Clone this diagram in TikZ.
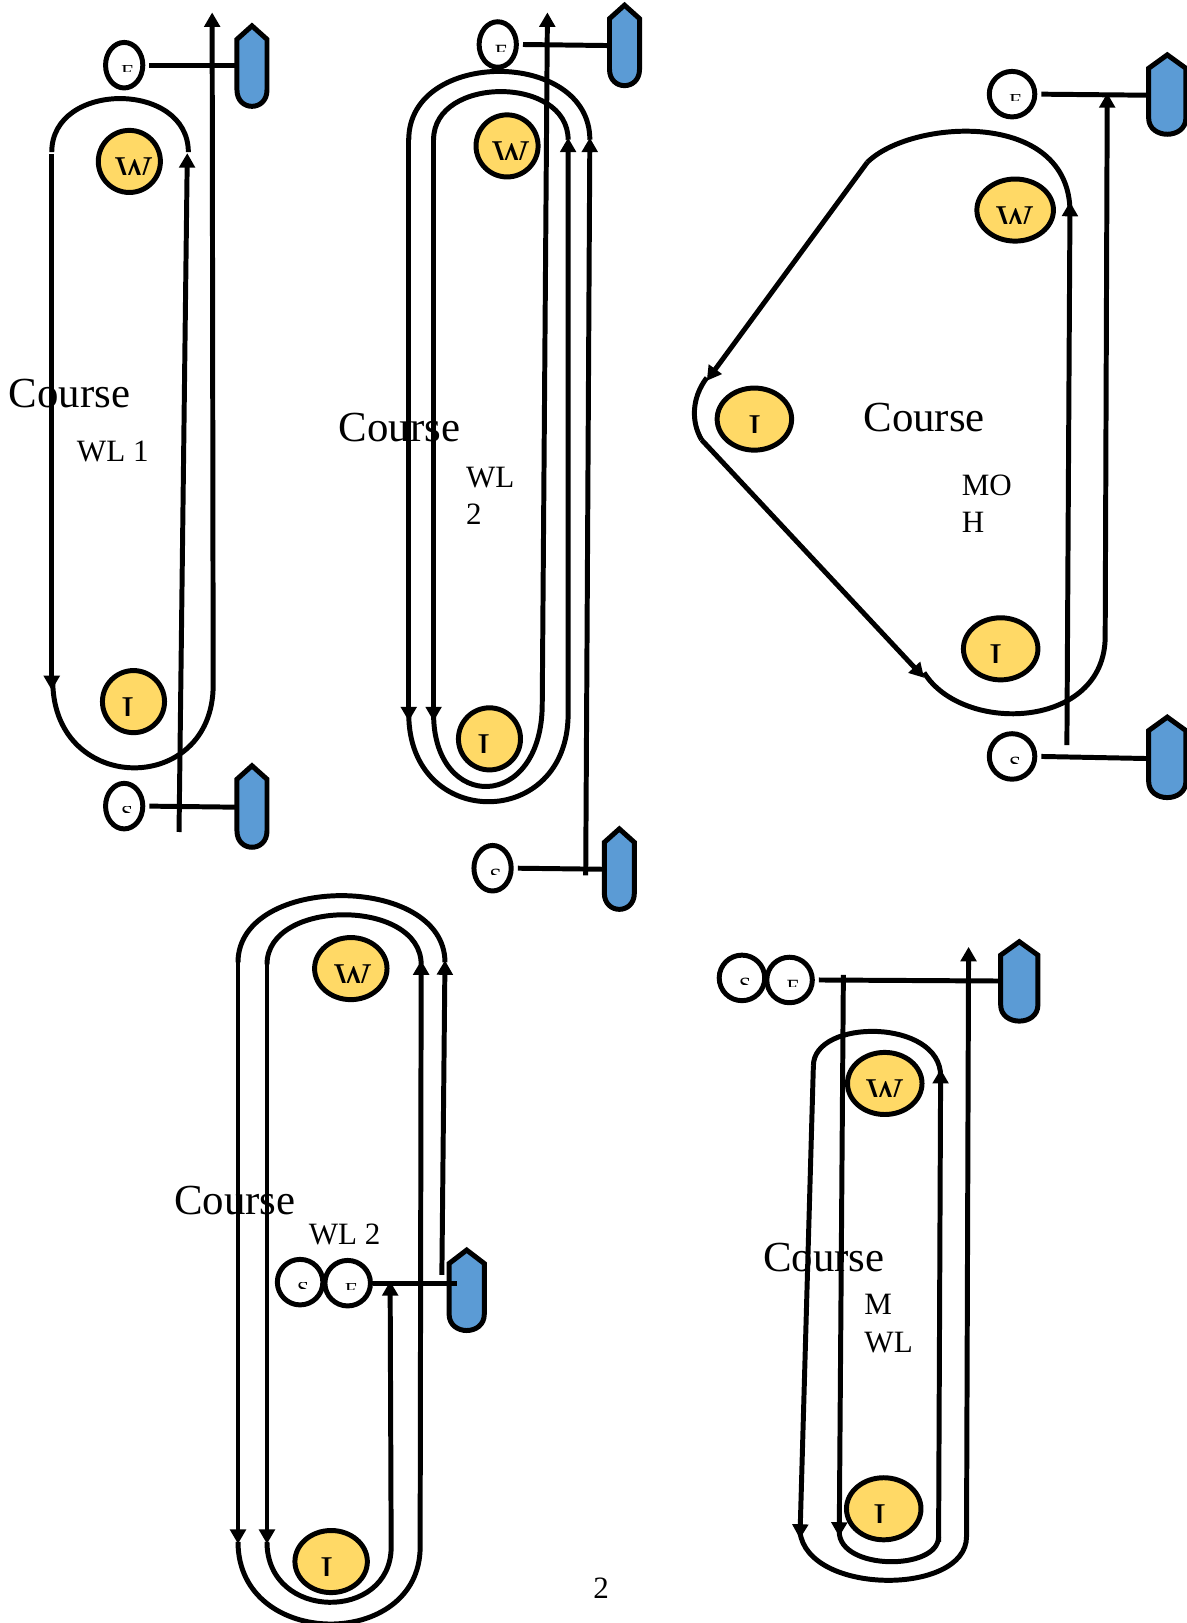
\documentclass[tikz,border=0pt]{standalone}
\usepackage{fontspec}
\setmainfont{Liberation Serif}
\usepackage{xcolor}
\usetikzlibrary{arrows.meta,shapes.geometric}

\definecolor{wheelyellow}{HTML}{FFD966}
\definecolor{tankblue}{HTML}{5B9BD5}

\tikzset{
  belt/.style={line width=2.4pt},
  flow/.style={line width=2.4pt, -{Triangle[length=7pt,width=7.5pt]}},
  wheel/.style={ellipse, draw, line width=2.4pt, fill=wheelyellow, inner sep=0pt, minimum height=30pt, minimum width=30pt},
  roller/.style={ellipse, draw, line width=2.4pt, fill=white, inner sep=0pt, minimum height=22pt, minimum width=17pt},
  tank/.style={draw, line width=2.4pt, fill=tankblue},
  course/.style={anchor=base west, inner sep=0pt, font=\fontsize{20.7}{24}\selectfont},
  wltext/.style={anchor=base west, inner sep=0pt, font=\fontsize{15}{18}\selectfont},
}

% letter cut off below, placed from a wheel or roller
\newcommand{\cutletter}[6]{%
  \begin{scope}[shift={(#1.center)}]
    \clip (-40,#3) rectangle (40,#3+#4);
    \node[anchor=north, inner sep=0pt, font=\fontsize{#5}{#5}\selectfont] at (#2,#3) {#6};
  \end{scope}}
\newcommand{\bigletter}[3]{\cutletter{#1}{#2}{-4}{17}{19}{#3}}
\newcommand{\smallletter}[1]{\cutletter{#1}{3}{0}{6.5}{10.5}}

% left, right, top, bottom of the outer edge
\newcommand{\tankbody}[4]{%
  \draw[tank] ({(#1+#2)/2},#3+4) -- (#2-2,#3+17) -- (#2-2,#4-18)
    .. controls (#2-2,#4+3) and (#1+2,#4+3) .. (#1+2,#4-18) -- (#1+2,#3+17) -- cycle;}

\begin{document}
\begin{tikzpicture}[x=0.5pt,y=-0.5pt]
  \useasboundingbox (0,0) rectangle (1147,1568.4);

  % First panel
  \draw[belt] (50,147) .. controls (50,78) and (182,78) .. (182,147);
  \draw[flow] (50,149) -- (50,667);
  \draw[flow] (51,660) .. controls (53,769) and (206,769) .. (206,662) -- (205,12);
  \draw[flow] (173,804) -- (181,148);
  \node[wheel] (w1) at (125,156) {};
  \node[wheel] (i1) at (129,678) {};
  \node[roller,minimum width=18pt] (f1) at (120,63) {};
  \node[roller,minimum width=18pt] (s1) at (120,779) {};
  \bigletter{w1}{4.5}{W}
  \bigletter{i1}{-5.5}{I}
  \smallletter{f1}{F}
  \smallletter{s1}{S}
  \tankbody{227}{260}{21}{105}
  \tankbody{227}{260}{736}{821}
  \coordinate (t1a) at (227,63);
  \coordinate (t1b) at (227,780);
  \draw[belt] (f1.east) ++(4,0) -- (t1a);
  \draw[belt] (s1.east) ++(4,0) -- (t1b);
  \node[course] (c1) at (8,394) {Course};
  \node[wltext] (l1) at (74,446) {WL 1};

  % Second panel
  \draw[belt] (395,135) .. controls (395,47) and (570,47) .. (570,135);
  \draw[belt] (419,135) .. controls (419,73) and (549,73) .. (549,135);
  \draw[flow] (395,133) -- (395,697);
  \draw[flow] (419,133) -- (419,697);
  \draw[flow] (395,690) .. controls (395,803) and (549,803) .. (549,690) -- (549,133);
  \draw[flow] (419,690) .. controls (419,785) and (524,785) .. (524,680) -- (529,12);
  \draw[flow] (566,846) -- (570,133);
  \node[wheel] (w2) at (490,141) {};
  \node[wheel] (i2) at (473,714) {};
  \node[roller,minimum width=18pt] (f2) at (481,43) {};
  \node[roller,minimum width=18pt] (s2) at (476,839) {};
  \bigletter{w2}{4}{W}
  \bigletter{i2}{-5}{I}
  \smallletter{f2}{F}
  \smallletter{s2}{S}
  \tankbody{587}{620}{1}{85}
  \tankbody{582}{615}{797}{881}
  \coordinate (t2a) at (587,44);
  \coordinate (t2b) at (582,840);
  \draw[belt] (f2.east) ++(4,0) -- (t2a);
  \draw[belt] (s2.east) ++(4,0) -- (t2b);
  \node[course] (c2) at (327,427) {Course};
  \node[wltext,align=left] (l2) at (450,471) {WL};
  \node[wltext] (l2b) at (450,507) {2};

  % Third panel
  \draw[flow] (838,157) -- (683,368);
  \draw[belt] (683,365) .. controls (668,385) and (668,408) .. (678,425);
  \draw[flow] (678,425) -- (893,655);
  \draw[belt] (838,157) .. controls (880,115) and (1034,105) .. (1034,205);
  \draw[flow] (893,650) .. controls (930,710) and (1068,705) .. (1068,615) -- (1070,90);
  \draw[flow] (1031,720) -- (1034,195);
  \node[wheel,minimum width=37pt] (w3) at (981,203) {};
  \node[wheel,minimum width=36pt] (i3a) at (729,405) {};
  \node[wheel,minimum width=36pt] (i3b) at (967,627) {};
  \node[roller,minimum width=22pt] (f3) at (978,91) {};
  \node[roller,minimum width=22pt] (s3) at (978,731) {};
  \bigletter{w3}{0}{W}
  \bigletter{i3a}{1}{I}
  \bigletter{i3b}{-4}{I}
  \smallletter{f3}{F}
  \smallletter{s3}{S}
  \tankbody{1108}{1148}{49}{132}
  \tankbody{1108}{1148}{689}{773}
  \coordinate (t3a) at (1108,92);
  \coordinate (t3b) at (1108,733);
  \draw[belt] (f3.east) ++(4,0) -- (t3a);
  \draw[belt] (s3.east) ++(4,0) -- (t3b);
  \node[course] (c3) at (834,417) {Course};
  \node[wltext] (l3) at (929,479) {MO};
  \node[wltext] (l3b) at (929,515) {H};

  % Fourth panel
  \draw[belt] (230,930) .. controls (230,844) and (430,844) .. (430,930);
  \draw[belt] (258,932) .. controls (258,868) and (407,868) .. (407,932);
  \draw[flow] (230,928) -- (230,1492);
  \draw[flow] (258,932) -- (258,1492);
  \draw[flow] (230,1490) .. controls (230,1595) and (406,1595) .. (406,1495) -- (407,928);
  \draw[flow] (258,1490) .. controls (258,1567) and (378,1567) .. (378,1495) -- (377,1238);
  \draw[flow] (427,1232) -- (430,928);
  \node[wheel,minimum width=35pt] (w4) at (339,936) {};
  \node[wheel,minimum width=35pt] (i4) at (320,1509) {};
  \node[roller,minimum width=22pt] (s4) at (290,1239) {};
  \node[roller,minimum width=22pt] (f4) at (336,1240) {};
  \bigletter{w4}{2}{W}
  \bigletter{i4}{-4}{I}
  \smallletter{s4}{S}
  \smallletter{f4}{F}
  \tankbody{432}{470}{1204}{1288}
  \coordinate (t4) at (442,1240);
  \draw[belt] (f4.east) -- (t4);
  \node[course] (c4) at (168,1174) {Course};
  \node[wltext] (l4) at (298,1203) {WL 2};

  % Fifth panel
  \draw[flow] (786,1030) -- (773,1487);
  \draw[belt] (786,1030) .. controls (786,984) and (909,984) .. (909,1040);
  \draw[flow] (907,1490) -- (909,1033);
  \draw[flow] (815,942) -- (811,1485);
  \draw[belt] (811,1480) .. controls (811,1518) and (907,1518) .. (907,1485);
  \draw[flow] (773,1480) .. controls (780,1542) and (934,1542) .. (934,1485) -- (936,915);
  \node[wheel,minimum width=36pt] (w5) at (855,1047) {};
  \node[wheel,minimum width=36pt] (i5) at (854,1458) {};
  \node[roller,minimum width=22pt] (s5) at (717,945) {};
  \node[roller,minimum width=22pt] (f5) at (763,947) {};
  \bigletter{w5}{0}{W}
  \bigletter{i5}{-4}{I}
  \smallletter{s5}{S}
  \smallletter{f5}{F}
  \tankbody{965}{1005}{906}{989}
  \coordinate (t5) at (965,948);
  \draw[belt] (f5.east) ++(4,0) -- (t5);
  \node[course] (c5) at (737,1229) {Course};
  \node[wltext] (l5) at (835,1270) {M};
  \node[wltext] (l5b) at (835,1307) {WL};

  % Page number
  \node[wltext] (page) at (573,1545) {2};
\end{tikzpicture}
\end{document}
